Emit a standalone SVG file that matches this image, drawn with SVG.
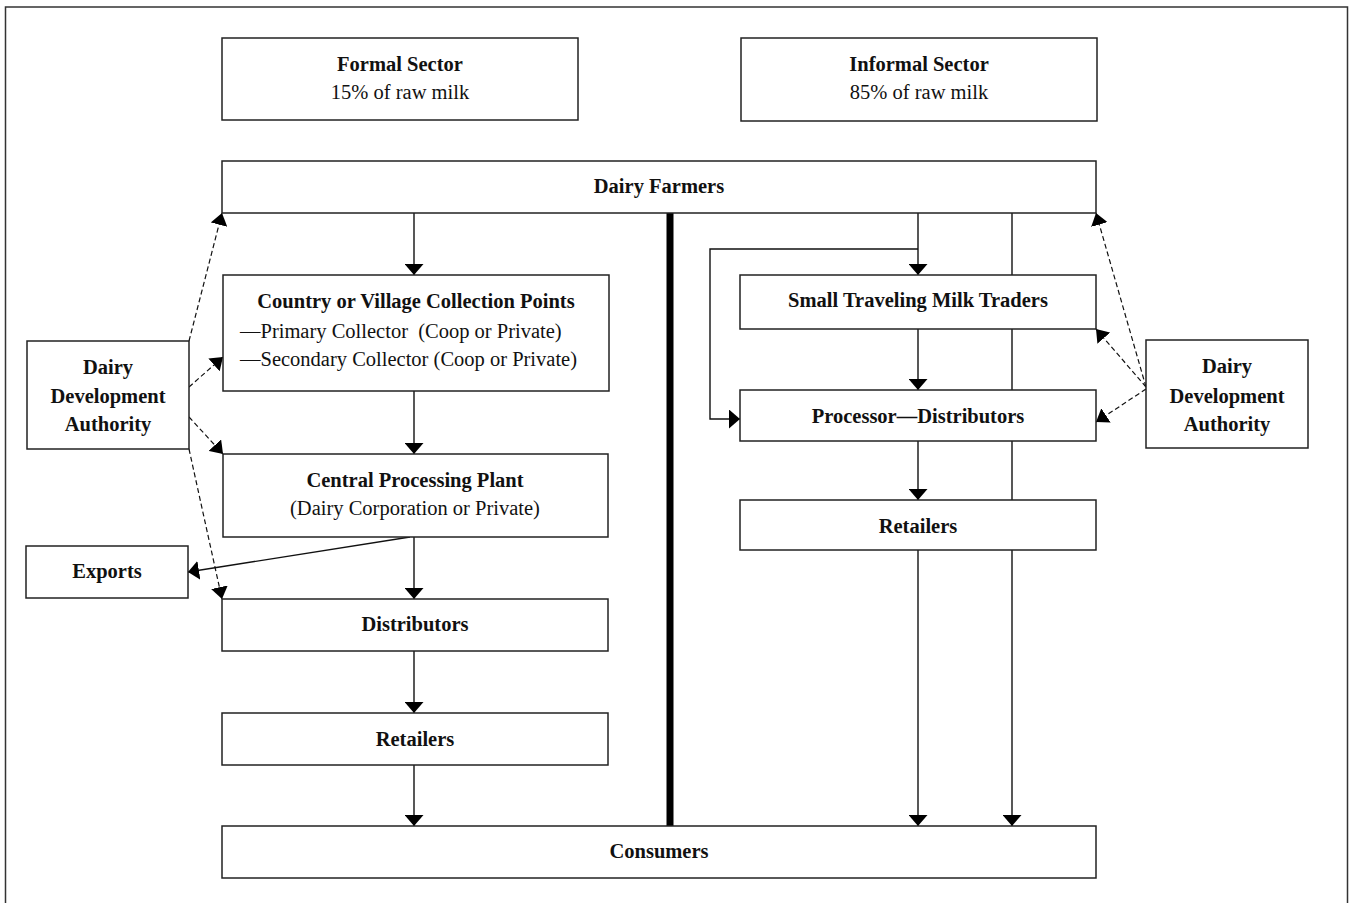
<svg xmlns="http://www.w3.org/2000/svg" width="1349" height="903" viewBox="0 0 1349 903">
<style>
  .box { fill: #fff; stroke: #222; stroke-width: 1.5; }
  .frame { fill: #fff; stroke: #333; stroke-width: 1.5; }
  .t { font-family: "Liberation Serif", "Times New Roman", serif; font-size: 20.5px; fill: #111; text-anchor: middle; }
  .b { font-weight: bold; }
  .l { text-anchor: start; }
  .c { fill: none; stroke: #111; stroke-width: 1.4; marker-end: url(#ah); }
  .d { fill: none; stroke: #111; stroke-width: 1.2; stroke-dasharray: 5 3; marker-end: url(#dh); }
  .div { stroke: #000; stroke-width: 7; }
</style>
<defs>
  <marker id="ah" viewBox="0 0 11 19" refX="11" refY="9.5" markerWidth="11" markerHeight="19" orient="auto" markerUnits="userSpaceOnUse">
    <path d="M0,0 L11,9.5 L0,19 z" fill="#000"/>
  </marker>
  <marker id="dh" viewBox="0 0 12 17" refX="12" refY="8.5" markerWidth="12" markerHeight="17" orient="auto" markerUnits="userSpaceOnUse">
    <path d="M0,0 L12,8.5 L0,17 z" fill="#000"/>
  </marker>
</defs>
<rect class="frame" x="5.5" y="7" width="1342" height="930"/>
<g id="connectors">
  <path class="c" d="M414,213 V275"/>
  <path class="c" d="M414,391 V454"/>
  <path class="c" d="M414,537 V599"/>
  <path class="c" d="M410,537 L188,572"/>
  <path class="c" d="M414,651 V713"/>
  <path class="c" d="M414,765 V826"/>
  <path class="c" d="M918,213 V275"/>
  <path class="c" d="M918,249 H710 V419 H740"/>
  <path class="c" d="M918,329 V390"/>
  <path class="c" d="M918,441 V500"/>
  <path class="c" d="M918,550 V826"/>
  <path class="c" d="M1012,213 V826"/>
  <path class="div" d="M670,213 V826"/>
  <path class="d" d="M189,341 L222,213"/>
  <path class="d" d="M189,387 L223,357"/>
  <path class="d" d="M189,417 L223,454"/>
  <path class="d" d="M189,449 L222,599"/>
  <path class="d" d="M1146,387 L1096,213"/>
  <path class="d" d="M1146,387 L1096,329"/>
  <path class="d" d="M1146,389 L1096,422"/>
</g>
<g id="formal-sector">
  <rect class="box" x="222" y="38" width="356" height="82"/>
  <text class="t b" x="400" y="71">Formal Sector</text>
  <text class="t" x="400" y="99">15% of raw milk</text>
</g>
<g id="informal-sector">
  <rect class="box" x="741" y="38" width="356" height="83"/>
  <text class="t b" x="919" y="71">Informal Sector</text>
  <text class="t" x="919" y="99">85% of raw milk</text>
</g>
<g id="dairy-farmers">
  <rect class="box" x="222" y="161" width="874" height="52"/>
  <text class="t b" x="659" y="193">Dairy Farmers</text>
</g>
<g id="collection-points">
  <rect class="box" x="223" y="275" width="386" height="116"/>
  <text class="t b" x="416" y="308">Country or Village Collection Points</text>
  <text class="t l" x="240" y="338" xml:space="preserve">—Primary Collector  (Coop or Private)</text>
  <text class="t l" x="240" y="366">—Secondary Collector (Coop or Private)</text>
</g>
<g id="central-processing">
  <rect class="box" x="223" y="454" width="385" height="83"/>
  <text class="t b" x="415" y="487">Central Processing Plant</text>
  <text class="t" x="415" y="515">(Dairy Corporation or Private)</text>
</g>
<g id="distributors">
  <rect class="box" x="222" y="599" width="386" height="52"/>
  <text class="t b" x="415" y="631">Distributors</text>
</g>
<g id="retailers-formal">
  <rect class="box" x="222" y="713" width="386" height="52"/>
  <text class="t b" x="415" y="746">Retailers</text>
</g>
<g id="consumers">
  <rect class="box" x="222" y="826" width="874" height="52"/>
  <text class="t b" x="659" y="858">Consumers</text>
</g>
<g id="exports">
  <rect class="box" x="26" y="546" width="162" height="52"/>
  <text class="t b" x="107" y="578">Exports</text>
</g>
<g id="dda-left">
  <rect class="box" x="27" y="341" width="162" height="108"/>
  <text class="t b" x="108" y="374">Dairy</text>
  <text class="t b" x="108" y="403">Development</text>
  <text class="t b" x="108" y="431">Authority</text>
</g>
<g id="small-traders">
  <rect class="box" x="740" y="275" width="356" height="54"/>
  <text class="t b" x="918" y="307">Small Traveling Milk Traders</text>
</g>
<g id="processor-distributors">
  <rect class="box" x="740" y="390" width="356" height="51"/>
  <text class="t b" x="918" y="423">Processor—Distributors</text>
</g>
<g id="retailers-informal">
  <rect class="box" x="740" y="500" width="356" height="50"/>
  <text class="t b" x="918" y="533">Retailers</text>
</g>
<g id="dda-right">
  <rect class="box" x="1146" y="340" width="162" height="108"/>
  <text class="t b" x="1227" y="373">Dairy</text>
  <text class="t b" x="1227" y="403">Development</text>
  <text class="t b" x="1227" y="431">Authority</text>
</g>
</svg>
